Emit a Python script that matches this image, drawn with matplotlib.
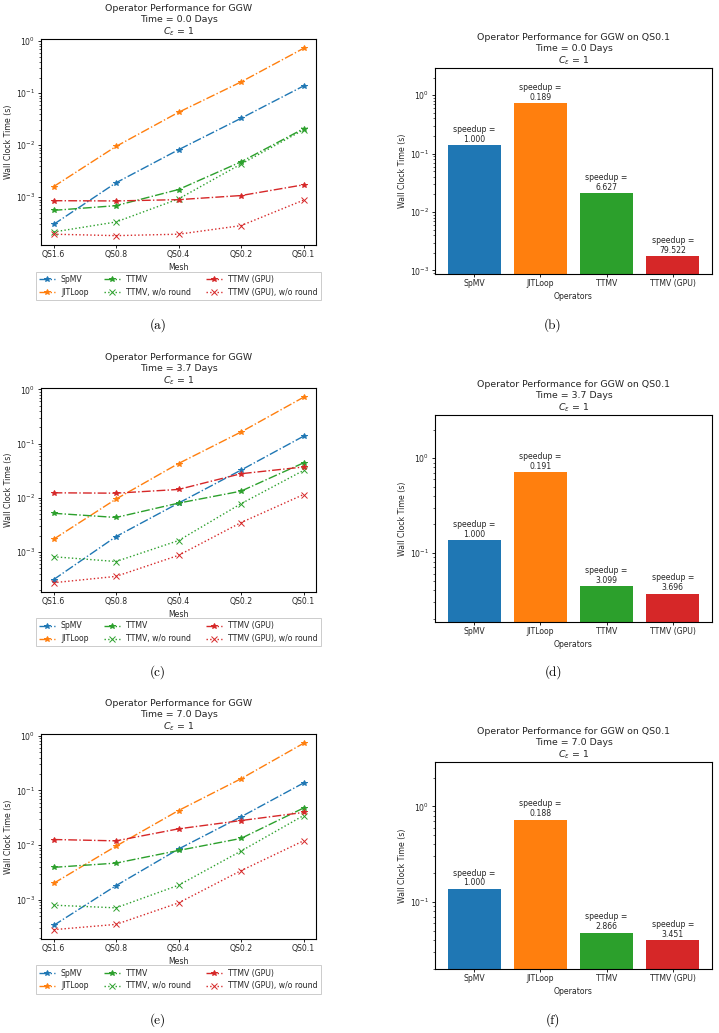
import matplotlib
matplotlib.use("Agg")
import matplotlib.pyplot as plt
import numpy as np

# ---------------- data ----------------
meshes = ["QS1.6", "QS0.8", "QS0.4", "QS0.2", "QS0.1"]
operators = ["SpMV", "JITLoop", "TTMV", "TTMV (GPU)"]
days = ["0.0", "3.7", "7.0"]

# Time = 0.0 days
spmv_0 = [3.0e-4, 1.9e-3, 8.2e-3, 0.033, 0.138]
jit_0 = [1.6e-3, 9.5e-3, 0.043, 0.165, 0.730]
ttmv_0 = [5.6e-4, 6.9e-4, 1.41e-3, 4.8e-3, 0.0208]
ttmv_nr_0 = [2.15e-4, 3.35e-4, 9.3e-4, 4.35e-3, 0.0198]
gpu_0 = [8.6e-4, 8.5e-4, 9.0e-4, 1.08e-3, 1.735e-3]
gpu_nr_0 = [1.95e-4, 1.83e-4, 1.95e-4, 2.85e-4, 8.8e-4]
speedup_0 = [1.000, 0.189, 6.627, 79.522]

# Time = 3.7 days
spmv_1 = [3.1e-4, 1.93e-3, 8.0e-3, 0.0325, 0.137]
jit_1 = [1.72e-3, 9.5e-3, 0.043, 0.164, 0.717]
ttmv_1 = [5.2e-3, 4.35e-3, 8.0e-3, 0.0133, 0.0442]
ttmv_nr_1 = [8.2e-4, 6.7e-4, 1.63e-3, 7.8e-3, 0.032]
gpu_1 = [0.0124, 0.0122, 0.0143, 0.0279, 0.0371]
gpu_nr_1 = [2.72e-4, 3.56e-4, 8.7e-4, 3.5e-3, 0.0115]
speedup_1 = [1.000, 0.191, 3.099, 3.696]

# Time = 7.0 days
spmv_2 = [3.4e-4, 1.82e-3, 8.5e-3, 0.033, 0.137]
jit_2 = [2.0e-3, 9.6e-3, 0.043, 0.164, 0.729]
ttmv_2 = [3.93e-3, 4.7e-3, 8.0e-3, 0.0133, 0.0478]
ttmv_nr_2 = [8.0e-4, 7.15e-4, 1.85e-3, 7.8e-3, 0.0348]
gpu_2 = [0.0127, 0.0120, 0.0199, 0.0282, 0.0397]
gpu_nr_2 = [2.85e-4, 3.56e-4, 8.8e-4, 3.42e-3, 0.012]
speedup_2 = [1.000, 0.188, 2.866, 3.451]

series_names = ["SpMV", "JITLoop", "TTMV", "TTMV, w/o round",
                "TTMV (GPU)", "TTMV (GPU), w/o round"]
series_colors = ["C0", "C1", "C2", "C2", "C3", "C3"]
series_styles = ["-.", "-.", "-.", ":", "-.", ":"]
series_markers = ["*", "*", "*", "x", "*", "x"]
bar_colors = ["C0", "C1", "C2", "C3"]

all_series = [
    [spmv_0, jit_0, ttmv_0, ttmv_nr_0, gpu_0, gpu_nr_0],
    [spmv_1, jit_1, ttmv_1, ttmv_nr_1, gpu_1, gpu_nr_1],
    [spmv_2, jit_2, ttmv_2, ttmv_nr_2, gpu_2, gpu_nr_2],
]
all_speedups = [speedup_0, speedup_1, speedup_2]
captions_left = ["(a)", "(c)", "(e)"]
captions_right = ["(b)", "(d)", "(f)"]

# ---------------- style ----------------
s = 0.56
plt.rcParams.update({
    "font.family": "DejaVu Sans",
    "font.size": 10 * s,
    "axes.titlesize": 12 * s,
    "axes.labelsize": 10 * s,
    "xtick.labelsize": 10 * s,
    "ytick.labelsize": 10 * s,
    "legend.fontsize": 10 * s,
    "text.color": "0.15",
    "axes.labelcolor": "0.15",
    "xtick.labelcolor": "0.15",
    "ytick.labelcolor": "0.15",
    "lines.linewidth": 1.0,
    "lines.markersize": 4.0,
    "lines.markeredgewidth": 0.7,
    "axes.linewidth": 0.8,
    "xtick.major.size": 3.5 * s,
    "ytick.major.size": 3.5 * s,
    "xtick.minor.size": 2 * s,
    "ytick.minor.size": 2 * s,
    "xtick.major.width": 0.6,
    "ytick.major.width": 0.6,
    "xtick.minor.width": 0.45,
    "ytick.minor.width": 0.45,
    "xtick.major.pad": 3.5 * s,
    "ytick.major.pad": 3.5 * s,
    "axes.titlepad": 6 * s,
    "axes.labelpad": 4 * s,
    "legend.edgecolor": "0.8",
    "patch.linewidth": 0.7,
})

W, H = 719, 1033
fig = plt.figure(figsize=(W / 100, H / 100), dpi=100)


def add_ax(left, top, right, bottom):
    return fig.add_axes([left / W, 1 - bottom / H, (right - left) / W, (bottom - top) / H])


left_boxes = [(41, 39, 316, 245), (41, 388, 316, 592), (41, 734, 316, 939)]
right_boxes = [(435, 68, 712, 274), (435, 415, 712, 622), (435, 762, 712, 969)]
caption_y = [325, 672, 1020]

for i in range(3):
    # ---- line plot ----
    ax = add_ax(*left_boxes[i])
    x = np.arange(len(meshes))
    for vals, name, c, ls, mk in zip(all_series[i], series_names, series_colors,
                                      series_styles, series_markers):
        ax.plot(x, vals, linestyle=ls, marker=mk, color=c, label=name)
    ax.set_yscale("log")
    ax.set_xticks(x)
    ax.set_xticklabels(meshes)
    ax.set_xlabel("Mesh")
    ax.set_ylabel("Wall Clock Time (s)")
    ax.set_title("Operator Performance for GGW\nTime = %s Days\n$C_\\varepsilon$ = 1" % days[i])
    ax.legend(loc="upper center", bbox_to_anchor=(0.5, -0.11), ncol=3,
              frameon=True, fancybox=False, framealpha=1.0)
    fig.text(158 / W, 1 - caption_y[i] / H, captions_left[i], family="cmr10",
             fontsize=9.5, ha="center", va="center", color="black")

    # ---- bar plot ----
    bx = add_ax(*right_boxes[i])
    bar_vals = [all_series[i][0][-1], all_series[i][1][-1],
                all_series[i][2][-1], all_series[i][4][-1]]
    bars = bx.bar(operators, bar_vals, color=bar_colors, width=0.8)
    bx.set_yscale("log")
    bx.set_ylim(min(bar_vals) * 0.5, max(bar_vals) * 4)
    for b, sp in zip(bars, all_speedups[i]):
        bx.annotate("speedup =\n%.3f" % sp,
                    (b.get_x() + b.get_width() / 2, b.get_height()),
                    xytext=(0, 1), textcoords="offset points",
                    ha="center", va="bottom", fontsize=10 * s, linespacing=1.1)
    bx.set_xlabel("Operators")
    bx.set_ylabel("Wall Clock Time (s)")
    bx.set_title("Operator Performance for GGW on QS0.1\nTime = %s Days\n$C_\\varepsilon$ = 1" % days[i])
    fig.text(553 / W, 1 - caption_y[i] / H, captions_right[i], family="cmr10",
             fontsize=9.5, ha="center", va="center", color="black")

fig.savefig("out.png", dpi=100)
